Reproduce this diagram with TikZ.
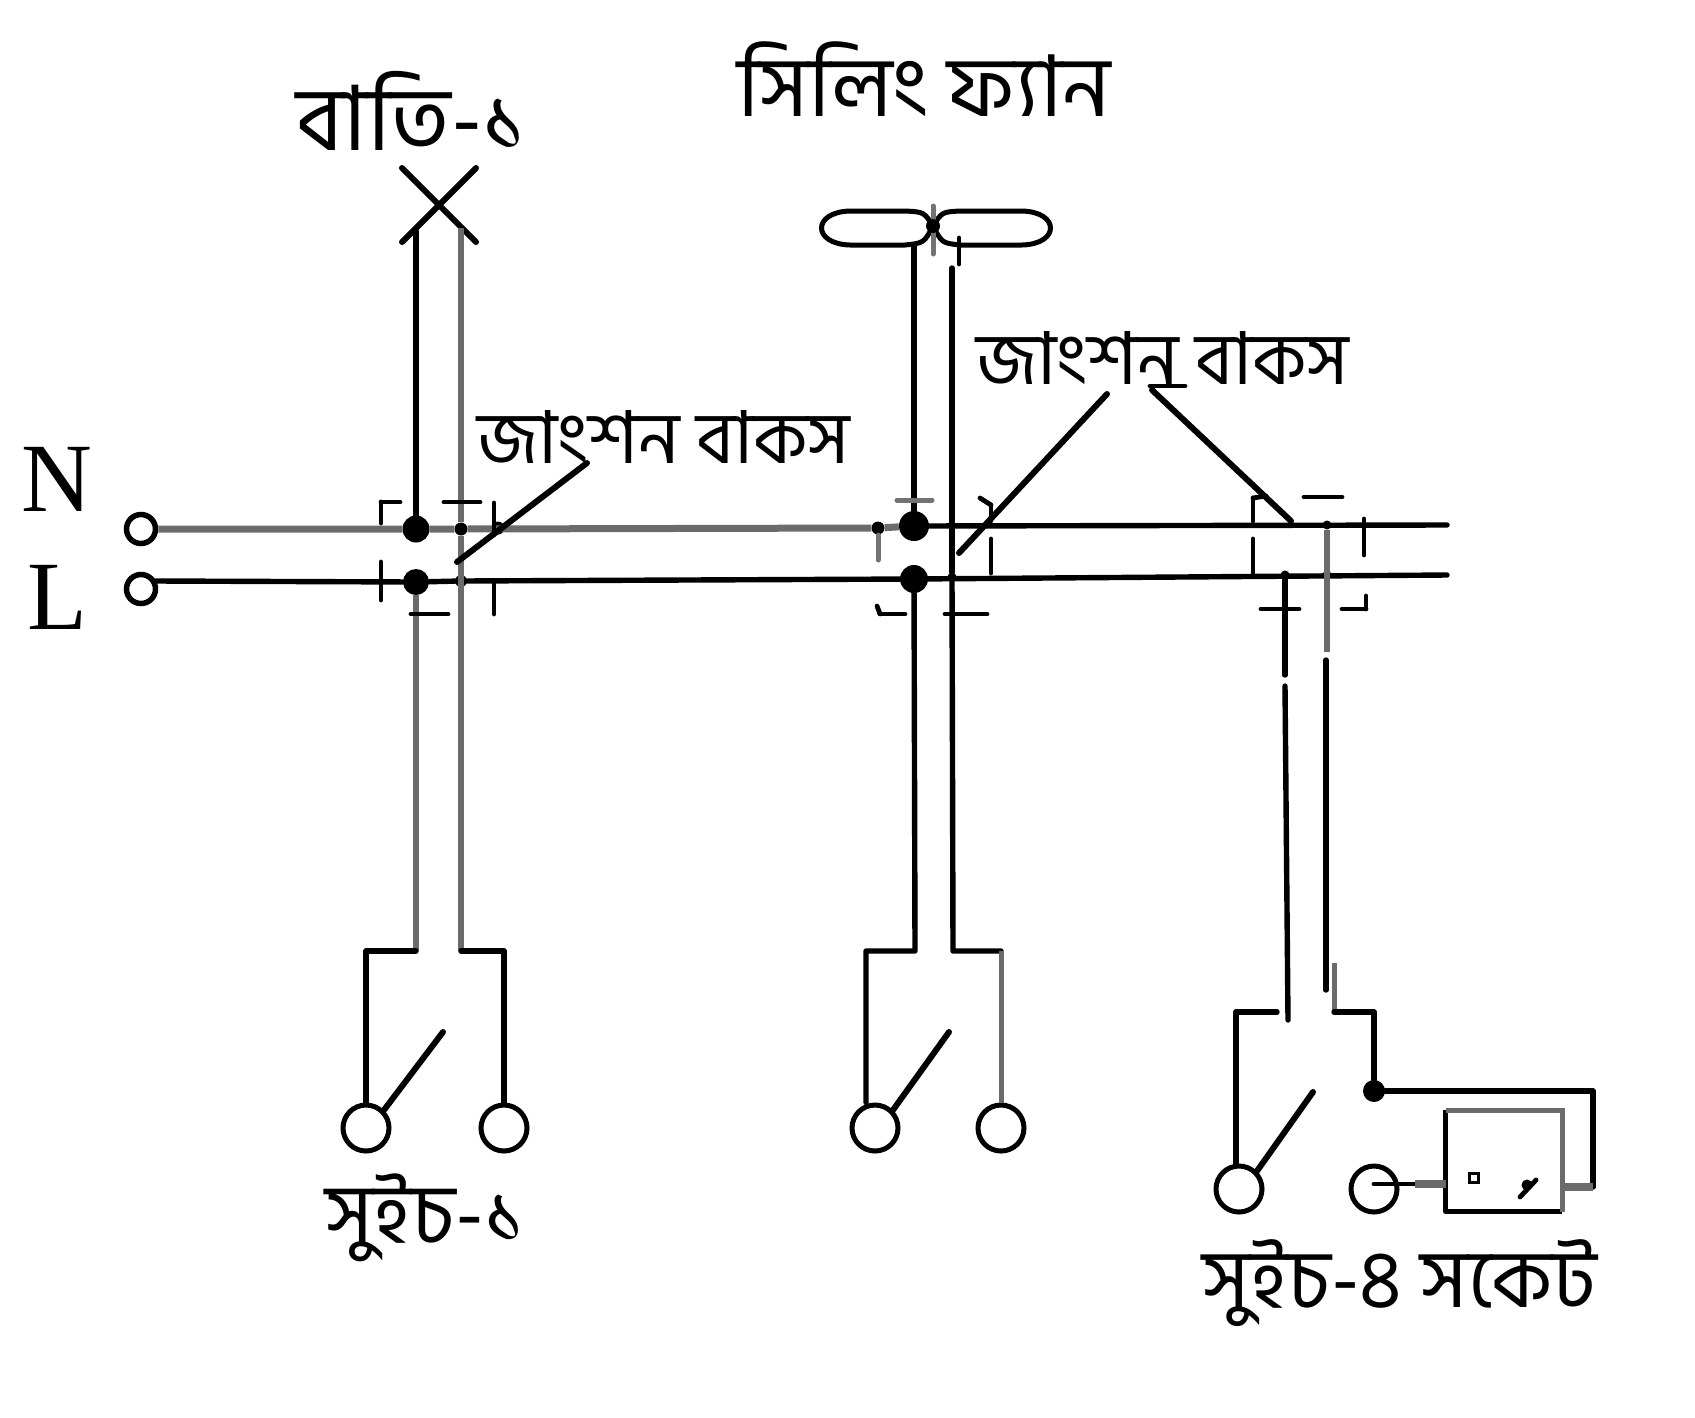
\documentclass[tikz,border=0pt]{standalone}
\usepackage{fontspec}
\setmainfont{Liberation Serif}
\newfontfamily\bnfont[Script=Bengali]{Hind Siliguri}
\usetikzlibrary{positioning,calc}
\definecolor{wiregrey}{gray}{0.42}

\begin{document}
\begin{tikzpicture}[x=1pt,y=-1pt,
    wire/.style={line width=5.4pt,black,line cap=round,line join=round},
    greywire/.style={line width=6.2pt,wiregrey,line cap=butt,line join=round},
    boxmark/.style={line width=4.8pt,black,line cap=round,line join=round},
    greymark/.style={line width=5pt,black!55,line cap=round},
    leader/.style={line width=6pt,black,line cap=round},
    term/.style={circle,draw,line width=5.5pt,fill=white,inner sep=0pt,minimum size=29pt},
    contact/.style={circle,draw,line width=5pt,fill=white,inner sep=0pt,minimum size=46pt},
    jdot/.style={circle,fill=black,inner sep=0pt,minimum size=#1},
    bangla/.style={font=\bnfont\fontsize{#1}{#1}\selectfont,inner sep=0pt,text=black},
    phase/.style={font=\fontsize{98}{98}\selectfont,inner sep=0pt}]
  \useasboundingbox (0,0) rectangle (1695,1417);
  \fill[white] (0,0) rectangle (1695,1417);

  % Supply terminals
  \node[term] (tn) at (141,529) {};
  \node[term] (tl) at (141,589) {};
  \node[phase] (lblN) at (57,479) {N};
  \node[phase] (lblL) at (57,597) {L};
  \coordinate (tlOut) at (156,581);

  % Junction dots
  \node[jdot=27pt] (jn1) at (416,529) {};
  \node[jdot=26pt] (jl1) at (416,582) {};
  \node[jdot=13pt] (jn1b) at (461,529) {};
  \node[jdot=12pt] (jl1b) at (461,581) {};
  \node[jdot=13pt] (jn1c) at (498,528) {};
  \node[jdot=13pt] (jn2b) at (878,528) {};
  \node[jdot=30pt] (jn2) at (914,526) {};
  \node[jdot=28pt] (jl2) at (914,579) {};
  \node[jdot=9pt] (jl2b) at (952,577) {};
  \node[jdot=9pt] (jl3a) at (1285,575) {};
  \node[jdot=9pt] (jn3b) at (1327,525) {};
  \node[jdot=9pt] (jl3b) at (1327,575) {};
  \coordinate (nEnd) at (1447,525);
  \coordinate (lEnd) at (1447,575);

  % Mains
  \draw[greywire,line width=7pt] (tn) -- (jn1) -- (jn1b) -- (jn2b) -- (jn2);
  \draw[wire] (jn2) -- (nEnd);
  \draw[wire] (tlOut) -- (jl1) -- (jl1b) -- (jl2) -- (lEnd);

  % Lamp
  \coordinate (xA) at (402,168);
  \coordinate (xB) at (476,242);
  \coordinate (xC) at (476,168);
  \coordinate (xD) at (402,242);
  \coordinate (xL) at (416,231);
  \coordinate (xR) at (461,228);
  \draw[wire,line width=6pt] (xA) -- (xB);
  \draw[wire,line width=6pt] (xC) -- (xD);
  \draw[wire] (xL) -- (jn1);
  \draw[greywire] (xR) -- (jn1b);

  % Fan
  \coordinate (fan) at (933,226);
  \draw[line width=5pt,line join=round,fill=white]
    (fan) .. controls (924,212) .. (905,211) -- (850,211)
    .. controls (812,212) and (812,244) .. (850,245) -- (905,245) .. controls (924,243) .. cycle;
  \draw[line width=5pt,line join=round,fill=white]
    (fan) .. controls (942,212) .. (960,211) -- (1022,211)
    .. controls (1060,212) and (1060,244) .. (1022,245) -- (960,245) .. controls (942,243) .. cycle;
  \coordinate (fanT) at (933,206);
  \coordinate (fanB) at (933,254);
  \draw[greymark] (fanT) -- (fanB);
  \node[jdot=14pt] (fanC) at (fan) {};
  \coordinate (fL) at (914,245);
  \coordinate (fR) at (952,268);
  \coordinate (fJ) at (959,238);
  \coordinate (fK) at (959,264);
  \draw[wire] (fL) -- (jn2);
  \draw[wire] (fR) -- (jl2b);
  \draw[boxmark] (fJ) -- (fK);

  % Switch 1
  \node[contact] (c1a) at (366,1128) {};
  \node[contact] (c1b) at (504,1128) {};
  \coordinate (s1l) at (416,951);
  \coordinate (s1r) at (461,951);
  \coordinate (b1) at (443,1032);
  \draw[greywire] (jl1) -- (s1l);
  \draw[greywire] (jn1b) -- (s1r);
  \draw[wire] (s1l) -| (c1a.north);
  \draw[wire] (s1r) -| (c1b.north);
  \draw[wire,line width=6pt] (c1a.north east) -- (b1);

  % Switch 2
  \node[contact] (c2a) at (875,1128) {};
  \node[contact] (c2b) at (1001,1128) {};
  \coordinate (s2l) at (915,951);
  \coordinate (s2r) at (953,951);
  \coordinate (s2c) at (1001,951);
  \coordinate (s2d) at (866,951);
  \coordinate (b2) at (949,1032);
  \draw[wire] (jl2) -- (s2l) -- (s2d) -- (s2d |- c2a.north);
  \draw[wire] (jl2b) -- (s2r) -- (s2c);
  \draw[greywire,line width=5pt] (s2c) -- (c2b.north);
  \draw[wire,line width=6pt] (c2a.north east) -- (b2);

  % Switch and socket
  \node[contact] (c3a) at (1239,1189) {};
  \node[contact] (c3b) at (1374,1189) {};
  \node[jdot=22pt] (j3) at (1374,1091) {};
  \node[inner sep=0pt,minimum width=116pt,minimum height=101pt] (sock) at (1504,1161) {};
  \draw[boxmark,line cap=butt] (sock.north west) -- (sock.south west) -- (sock.south east);
  \draw[wiregrey,line width=5pt] (sock.north west) -- (sock.north east) -- (sock.south east);
  \node[draw,line width=3.4pt,inner sep=0pt,minimum size=9pt] (pinA) at (1474,1178) {};
  \node[jdot=11pt] (pinB) at (1527,1185) {};
  \coordinate (pinC) at (1520,1197);
  \coordinate (pinD) at (1536,1180);
  \draw[boxmark] (pinC) -- (pinD);
  \coordinate (s3top) at (1285,686);
  \coordinate (s3a) at (1288,1020);
  \coordinate (s3b) at (1277,1012);
  \coordinate (s3c) at (1236,1012);
  \coordinate (s3r2) at (1327,652);
  \coordinate (s3r3) at (1326,660);
  \coordinate (s3r4) at (1326,990);
  \coordinate (s3r5) at (1334,963);
  \coordinate (s3r6) at (1334,1012);
  \coordinate (s3r7) at (1374,1012);
  \coordinate (s3gap) at (1285,675);
  \coordinate (b3) at (1313,1092);
  \coordinate (sockE) at (1593,1091);
  \coordinate (sockF) at (1593,1187);
  \coordinate (sockG) at (1562,1187);
  \coordinate (c3out) at (1415,1184);
  \coordinate (c3in) at (1374,1184);
  \draw[wire] (jl3a) -- (s3gap);
  \draw[wire] (s3top) -- (s3a);
  \draw[greywire] (jn3b) -- (s3r2);
  \draw[wire] (s3r3) -- (s3r4);
  \draw[greywire,line width=5pt] (s3r5) -- (s3r6);
  \draw[wire] (s3r6) -- (s3r7) -- (j3);
  \draw[wire] (s3b) -- (s3c) -- (c3a.north -| s3c);
  \draw[wire,line width=6pt] (c3a.north east) -- (b3);
  \draw[wire] (j3) -- (sockE) -- (sockF);
  \draw[greywire,line width=8pt] (sockF) -- (sockG);
  \draw[boxmark] (c3in) -- (c3out);
  \draw[greywire,line width=8pt] (c3out) -- (sock.west |- c3out);

  % Junction box marks
  \foreach \a/\b in {
    {(400,502)}/{(381,502)}, {(381,502)}/{(381,523)}, {(444,502)}/{(480,502)}, {(494,503)}/{(494,535)},
    {(494,584)}/{(494,614)}, {(411,614)}/{(448,614)}, {(381,562)}/{(381,600)},
    {(945,614)}/{(987,614)}, {(880,614)}/{(905,614)}, {(877,606)}/{(880,614)}, {(991,505)}/{(991,521)},
    {(991,539)}/{(991,573)}, {(1253,498)}/{(1253,521)}, {(1253,539)}/{(1253,573)},
    {(1304,497)}/{(1342,497)}, {(1364,519)}/{(1364,555)}, {(1261,609)}/{(1299,609)},
    {(1342,609)}/{(1366,609)}, {(1366,596)}/{(1366,609)}, {(1253,498)}/{(1266,496)},
    {(980,498)}/{(991,505)}, {(1150,386)}/{(1185,386)}}
    {\draw[boxmark] \a -- \b;}
  \draw[greymark] (897,500) -- (932,500);
  \draw[greymark] (878,535) -- (878,560);

  % Leaders to the boxes
  \coordinate (ld1a) at (457,562);
  \coordinate (ld1b) at (587,463);
  \coordinate (ld2a) at (959,553);
  \coordinate (ld2b) at (1107,394);
  \coordinate (ld3a) at (1152,390);
  \coordinate (ld3b) at (1291,521);
  \draw[leader] (ld1a) -- (ld1b);
  \draw[leader] (ld2a) -- (ld2b);
  \draw[leader] (ld3a) -- (ld3b);

  % Labels
  \node[bangla=90pt] (lamp) at (412,111) {বাতি-১};
  \node[bangla=85pt] (fanlbl) at (924,79) {সিলিং ফ্যান};
  \node[bangla=73pt] (box1) at (664,437) {জাংশন বাকস};
  \node[bangla=73pt] (box2) at (1163,358) {জাংশন বাকস};
  \node[bangla=83pt] (sw1) at (426,1218) {সুইচ-১};
  \node[bangla=82pt] (sw4) at (1400,1283) {সুইচ-৪ সকেট};
\end{tikzpicture}
\end{document}
